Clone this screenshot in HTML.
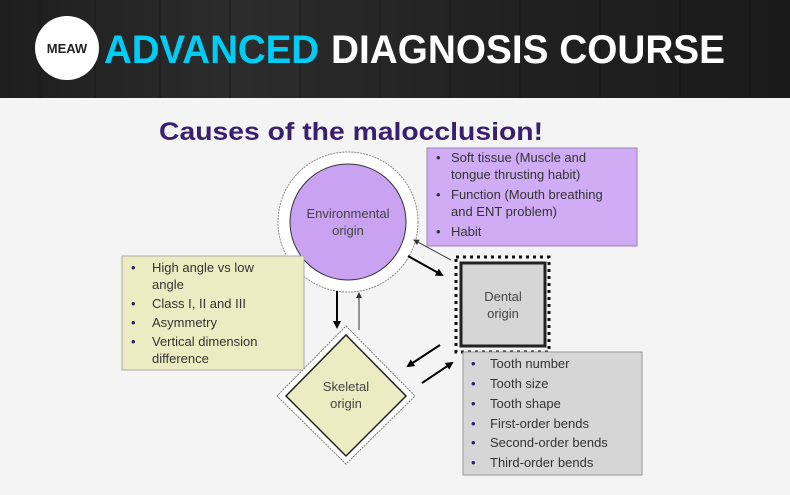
<!DOCTYPE html>
<html><head><meta charset="utf-8"><style>
html,body{margin:0;padding:0;width:790px;height:495px;overflow:hidden;background:#f4f4f4}
</style></head><body>
<svg width="790" height="495" viewBox="0 0 790 495" xmlns="http://www.w3.org/2000/svg" font-family="Liberation Sans, sans-serif">
<defs>
<linearGradient id="wood" x1="0" x2="1" y1="0" y2="0">
<stop offset="0" stop-color="#1e1e1e"/><stop offset="0.3" stop-color="#2c2c2c"/><stop offset="0.6" stop-color="#222"/><stop offset="1" stop-color="#1a1a1a"/>
</linearGradient>
<marker id="ah" markerWidth="8" markerHeight="8" refX="6" refY="4" orient="auto" markerUnits="userSpaceOnUse"><path d="M0,0 L8,4 L0,8 z" fill="#000"/></marker>
<marker id="ah2" markerWidth="6" markerHeight="6" refX="5" refY="3" orient="auto" markerUnits="userSpaceOnUse"><path d="M0,0 L6,3 L0,6 z" fill="#333"/></marker>
</defs>
<rect x="0" y="0" width="790" height="98" fill="url(#wood)"/>
<g stroke="#111" stroke-width="1" opacity="0.6">
<line x1="40" y1="0" x2="40" y2="98"/><line x1="95" y1="0" x2="95" y2="98"/><line x1="160" y1="0" x2="160" y2="98"/><line x1="230" y1="0" x2="230" y2="98"/><line x1="300" y1="0" x2="300" y2="98"/><line x1="380" y1="0" x2="380" y2="98"/><line x1="450" y1="0" x2="450" y2="98"/><line x1="520" y1="0" x2="520" y2="98"/><line x1="600" y1="0" x2="600" y2="98"/><line x1="680" y1="0" x2="680" y2="98"/><line x1="750" y1="0" x2="750" y2="98"/>
</g>
<circle cx="67" cy="48" r="32" fill="#fff"/>
<text x="67" y="53" font-size="13" font-weight="bold" text-anchor="middle" fill="#222">MEAW</text>
<text x="104" y="63" font-size="40" font-weight="bold" fill="#00cdf5" textLength="215" lengthAdjust="spacingAndGlyphs">ADVANCED</text>
<text x="331" y="63" font-size="40" font-weight="bold" fill="#fff" textLength="394" lengthAdjust="spacingAndGlyphs">DIAGNOSIS COURSE</text>

<text x="159" y="140" font-size="25" font-weight="bold" fill="#3a1f6e" textLength="384" lengthAdjust="spacingAndGlyphs">Causes of the malocclusion!</text>

<rect x="427" y="148" width="210" height="98" fill="#d0acf5" stroke="#9a85b8" stroke-width="1"/>
<g font-size="13" fill="#333">
<text x="436" y="162">•</text><text x="451" y="162">Soft tissue (Muscle and</text>
<text x="451" y="179">tongue thrusting habit)</text>
<text x="436" y="199">•</text><text x="451" y="199">Function (Mouth breathing</text>
<text x="451" y="216">and ENT problem)</text>
<text x="436" y="236">•</text><text x="451" y="236">Habit</text>
</g>

<circle cx="348" cy="222" r="70" fill="#fff" stroke="#888" stroke-width="1" stroke-dasharray="2,1"/>
<circle cx="348" cy="222" r="58" fill="#c9a3f2" stroke="#333" stroke-width="1"/>
<text x="348" y="218" font-size="13" text-anchor="middle" fill="#444">Environmental</text>
<text x="348" y="235" font-size="13" text-anchor="middle" fill="#444">origin</text>

<rect x="122" y="256" width="182" height="114" fill="#ececc2" stroke="#aaa" stroke-width="1"/>
<g font-size="13" fill="#333">
<text x="131" y="272" fill="#2a1a6a">•</text><text x="152" y="272">High angle vs low</text>
<text x="152" y="289">angle</text>
<text x="131" y="308" fill="#2a1a6a">•</text><text x="152" y="308">Class I, II and III</text>
<text x="131" y="327" fill="#2a1a6a">•</text><text x="152" y="327">Asymmetry</text>
<text x="131" y="346" fill="#2a1a6a">•</text><text x="152" y="346">Vertical dimension</text>
<text x="152" y="363">difference</text>
</g>

<rect x="456" y="257" width="93" height="95" fill="none" stroke="#111" stroke-width="3" stroke-dasharray="3,4"/>
<rect x="461" y="263" width="84" height="83" fill="#d6d6d6" stroke="#222" stroke-width="3"/>
<text x="503" y="301" font-size="13" text-anchor="middle" fill="#444">Dental</text>
<text x="503" y="318" font-size="13" text-anchor="middle" fill="#444">origin</text>

<rect x="463" y="352" width="179" height="123" fill="#d6d6d6" stroke="#999" stroke-width="1"/>
<g font-size="13" fill="#333">
<text x="471" y="368" fill="#2a1a6a">•</text><text x="490" y="368">Tooth number</text>
<text x="471" y="388" fill="#2a1a6a">•</text><text x="490" y="388">Tooth size</text>
<text x="471" y="408" fill="#2a1a6a">•</text><text x="490" y="408">Tooth shape</text>
<text x="471" y="428" fill="#2a1a6a">•</text><text x="490" y="428">First-order bends</text>
<text x="471" y="447" fill="#2a1a6a">•</text><text x="490" y="447">Second-order bends</text>
<text x="471" y="467" fill="#2a1a6a">•</text><text x="490" y="467">Third-order bends</text>
</g>

<polygon points="346,326 415,396 346,464 277,396" fill="#fff" stroke="#777" stroke-width="1" stroke-dasharray="2,1"/>
<polygon points="346,335 406,396 346,456 286,396" fill="#ececc2" stroke="#222" stroke-width="1.5"/>
<text x="346" y="391" font-size="13" text-anchor="middle" fill="#444">Skeletal</text>
<text x="346" y="408" font-size="13" text-anchor="middle" fill="#444">origin</text>

<line x1="337" y1="291" x2="337" y2="327" stroke="#000" stroke-width="2" marker-end="url(#ah)"/>
<line x1="359" y1="330" x2="359" y2="293" stroke="#333" stroke-width="1" marker-end="url(#ah2)"/>
<line x1="408" y1="256" x2="442" y2="275" stroke="#000" stroke-width="2" marker-end="url(#ah)"/>
<line x1="451" y1="260" x2="414" y2="240" stroke="#444" stroke-width="1" marker-end="url(#ah2)"/>
<line x1="440" y1="345" x2="408" y2="366" stroke="#000" stroke-width="2" marker-end="url(#ah)"/>
<line x1="422" y1="383" x2="452" y2="363" stroke="#000" stroke-width="2" marker-end="url(#ah)"/>
</svg>
</body></html>
